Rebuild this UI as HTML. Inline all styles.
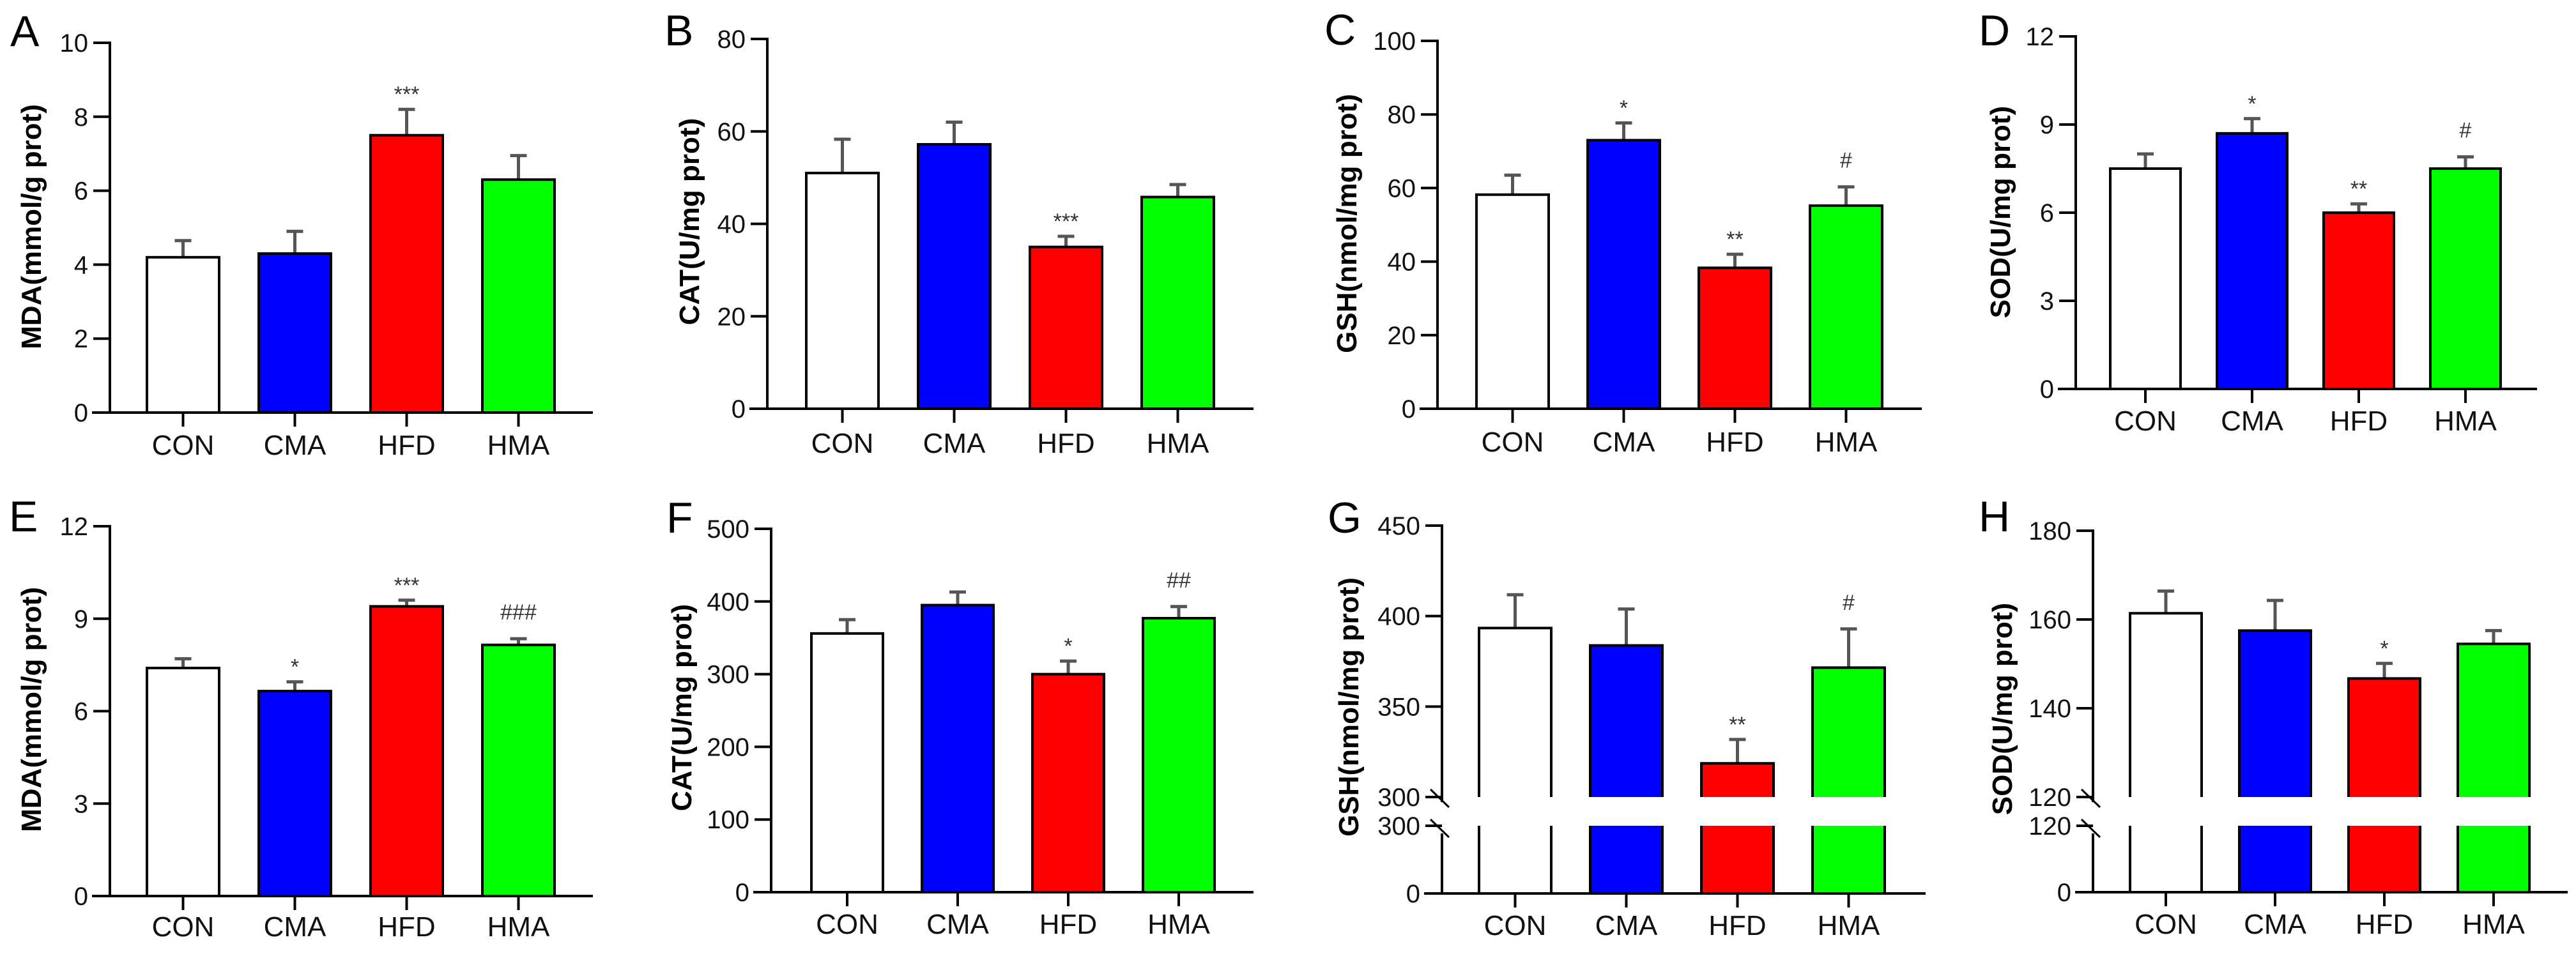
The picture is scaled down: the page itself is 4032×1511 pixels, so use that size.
<!DOCTYPE html>
<html><head><meta charset="utf-8">
<style>
html,body{margin:0;padding:0;background:#fff;}
svg{display:block;}
text{font-family:"Liberation Sans",Arial,sans-serif;}
</style></head>
<body>
<svg id="fig" width="4032" height="1511" viewBox="0 0 4032 1511" xmlns="http://www.w3.org/2000/svg"></svg>
<script>
const categories = ["CON","CMA","HFD","HMA"];
const barColors = ["#ffffff","#0000ff","#ff0000","#00ff00"];

const aValues = [4.2, 4.3, 7.5, 6.3];
const aErrTop = [4.65, 4.9, 8.2, 6.95];
const aMarks = ["", "", "***", ""];
const aTicks = [0, 2, 4, 6, 8, 10];

const bValues = [51, 57.2, 35, 45.8];
const bErrTop = [58.3, 62, 37.3, 48.5];
const bMarks = ["", "", "***", ""];
const bTicks = [0, 20, 40, 60, 80];

const cValues = [58.2, 73, 38.3, 55.2];
const cErrTop = [63.5, 77.7, 42, 60.3];
const cMarks = ["", "*", "**", "#"];
const cTicks = [0, 20, 40, 60, 80, 100];

const dValues = [7.5, 8.7, 6.0, 7.5];
const dErrTop = [8.0, 9.2, 6.3, 7.9];
const dMarks = ["", "*", "**", "#"];
const dTicks = [0, 3, 6, 9, 12];

const eValues = [7.4, 6.65, 9.4, 8.15];
const eErrTop = [7.7, 6.95, 9.6, 8.35];
const eMarks = ["", "*", "***", "###"];
const eTicks = [0, 3, 6, 9, 12];

const fValues = [356, 395, 300, 377];
const fErrTop = [375, 413, 318, 393];
const fMarks = ["", "", "*", "##"];
const fTicks = [0, 100, 200, 300, 400, 500];

const gValues = [393.4, 383.8, 318.6, 371.5];
const gErrTop = [411.8, 403.9, 331.8, 392.9];
const gMarks = ["", "", "**", "#"];
const gUpperTicks = [300, 350, 400, 450];
const gLowerTicks = [0, 300];

const hValues = [161.4, 157.5, 146.7, 154.5];
const hErrTop = [166.4, 164.3, 150.1, 157.5];
const hMarks = ["", "", "*", ""];
const hUpperTicks = [120, 140, 160, 180];
const hLowerTicks = [0, 120];

const NS = "http://www.w3.org/2000/svg";
const svg = document.getElementById("fig");
function mk(tag, attrs, parent){
  const el = document.createElementNS(NS, tag);
  for (const k in attrs) el.setAttribute(k, attrs[k]);
  (parent||svg).appendChild(el);
  return el;
}

function drawPanel(p){
  const g = mk("g", {});
  
  
  const broken = !!p.brk;
  // value to y
  function y(v){
    if (!broken) return p.yZero - (v - 0) / (p.max) * (p.yZero - p.yTop);
    if (v >= p.brk.lo) return p.brk.yUp - (v - p.brk.lo) / (p.max - p.brk.lo) * (p.brk.yUp - p.yTop);
    return p.yZero - v / p.brk.lo * (p.yZero - p.brk.yLow);
  }
  // panel letter
  const L = mk("text", {x:p.lx, y:p.ly, "font-size":68, fill:"#000"}, g);
  L.textContent = p.letter;
  
  
  // y title
  const T = mk("text", {x:0, y:0, "font-size":44, "font-weight":"bold", "text-anchor":"middle", transform:"translate("+p.tx+","+p.ty+") rotate(-90)", fill:"#000"}, g);
  T.textContent = p.title;
  
  
  // bars
  categories.forEach((c, i) => {
    const left = p.firstLeft + i * p.step;
    const cx = left + p.bw / 2;
    const top = y(p.values[i]);
    const et = y(p.errTop[i]);
    const eb = mk("line", {x1:cx, x2:cx, y1:et, y2:top, stroke:"#555", "stroke-width":5}, g);
    
    
    const cap = mk("line", {x1:cx-13, x2:cx+13, y1:et, y2:et, stroke:"#555", "stroke-width":5}, g);
    
    
    if (!broken){
      const r = mk("rect", {x:left, y:top, width:p.bw, height:p.yZero - top, fill:barColors[i], stroke:"#000", "stroke-width":4}, g);
      
      
    } else {
      const yb1 = p.brk.yUp, yb2 = p.brk.yLow;
      const r1 = mk("rect", {x:left, y:top, width:p.bw, height:yb1 - top, fill:barColors[i]}, g);
      
      
      const o1 = mk("path", {d:"M"+left+","+yb1+"V"+top+"H"+(left+p.bw)+"V"+yb1, fill:"none", stroke:"#000", "stroke-width":4}, g);
      
      
      const r2 = mk("rect", {x:left, y:yb2, width:p.bw, height:p.yZero - yb2, fill:barColors[i]}, g);
      
      
      const o2 = mk("path", {d:"M"+left+","+yb2+"V"+p.yZero+"H"+(left+p.bw)+"V"+yb2, fill:"none", stroke:"#000", "stroke-width":4}, g);
      
      
    }
    if (p.marks[i]){
      const isHash = p.marks[i].indexOf("#") >= 0;
      const m = mk("text", {x:cx, y:et - (isHash ? 30 : 12), "font-size":34, "text-anchor":"middle", fill:"#333"}, g);
      m.textContent = p.marks[i];
      
      
    }
    // x tick and label
    const xt = mk("line", {x1:cx, x2:cx, y1:p.yZero, y2:p.yZero + 22, stroke:"#000", "stroke-width":4}, g);
    
    
    const xl = mk("text", {x:cx, y:p.xlY, "font-size":44, "text-anchor":"middle", fill:"#111"}, g);
    xl.textContent = c;
    
    
  });
  // axes
  const xa = mk("line", {x1:p.axisX - 28, x2:p.axisEnd, y1:p.yZero, y2:p.yZero, stroke:"#000", "stroke-width":4}, g);
  
  
  if (!broken){
    const ya = mk("line", {x1:p.axisX, x2:p.axisX, y1:p.yTop - 2, y2:p.yZero + 2, stroke:"#000", "stroke-width":4}, g);
    
    
  } else {
    const ya1 = mk("line", {x1:p.axisX, x2:p.axisX, y1:p.yTop - 2, y2:p.brk.yUp + 8, stroke:"#000", "stroke-width":4}, g);
    
    
    const ya2 = mk("line", {x1:p.axisX, x2:p.axisX, y1:p.brk.yLow + 12, y2:p.yZero + 2, stroke:"#000", "stroke-width":4}, g);
    
    
    [p.brk.yUp - 12, p.brk.yLow - 10].forEach(yy => {
      const s = mk("line", {x1:p.axisX - 18, y1:yy, x2:p.axisX + 11, y2:yy + 28, stroke:"#000", "stroke-width":3}, g);
      
      
    });
  }
  function tick(v, yy){
    const t = mk("line", {x1:p.axisX - 26, x2:p.axisX, y1:yy, y2:yy, stroke:"#000", "stroke-width":4}, g);
    
    
    const tl = mk("text", {x:p.axisX - 34, y:yy + 14, "font-size":40, "text-anchor":"end", fill:"#111"}, g);
    tl.textContent = v;
    
    
  }
  if (!broken){
    p.ticks.forEach(v => tick(v, y(v)));
  } else {
    p.upperTicks.forEach(v => tick(v, y(v)));
    p.lowerTicks.forEach(v => tick(v, v === 0 ? p.yZero : p.brk.yLow));
  }
}

drawPanel({letter:"A", lx:16, ly:72, tx:64, ty:355, title:"MDA(mmol/g prot)", axisX:172, axisEnd:928, yTop:67, yZero:646, max:10, firstLeft:230, step:175, bw:113, xlY:712, values:aValues, errTop:aErrTop, marks:aMarks, ticks:aTicks});
drawPanel({letter:"B", lx:1040, ly:71, tx:1094, ty:347, title:"CAT(U/mg prot)", axisX:1201, axisEnd:1962, yTop:61, yZero:640, max:80, firstLeft:1262, step:175, bw:113, xlY:709, values:bValues, errTop:bErrTop, marks:bMarks, ticks:bTicks});
drawPanel({letter:"C", lx:2073, ly:70, tx:2123, ty:350, title:"GSH(nmol/mg prot)", axisX:2250, axisEnd:3008, yTop:64, yZero:640, max:100, firstLeft:2311, step:174, bw:113, xlY:707, values:cValues, errTop:cErrTop, marks:cMarks, ticks:cTicks});
drawPanel({letter:"D", lx:3097, ly:71, tx:3146, ty:332, title:"SOD(U/mg prot)", axisX:3249, axisEnd:3971, yTop:57, yZero:609, max:12, firstLeft:3303, step:167, bw:110, xlY:674, values:dValues, errTop:dErrTop, marks:dMarks, ticks:dTicks});
drawPanel({letter:"E", lx:14, ly:832, tx:64, ty:1111, title:"MDA(mmol/g prot)", axisX:172, axisEnd:928, yTop:824, yZero:1403, max:12, firstLeft:230, step:175, bw:113, xlY:1466, values:eValues, errTop:eErrTop, marks:eMarks, ticks:eTicks});
drawPanel({letter:"F", lx:1043, ly:834, tx:1082, ty:1108, title:"CAT(U/mg prot)", axisX:1207, axisEnd:1962, yTop:828, yZero:1397, max:500, firstLeft:1270, step:173, bw:112, xlY:1462, values:fValues, errTop:fErrTop, marks:fMarks, ticks:fTicks});
drawPanel({letter:"G", lx:2078, ly:834, tx:2126, ty:1107, title:"GSH(nmol/mg prot)", axisX:2257, axisEnd:3014, yTop:823, yZero:1399, max:450, brk:{lo:300, yUp:1248, yLow:1293}, firstLeft:2315, step:174, bw:113, xlY:1464, values:gValues, errTop:gErrTop, marks:gMarks, upperTicks:gUpperTicks, lowerTicks:gLowerTicks});
drawPanel({letter:"H", lx:3097, ly:832, tx:3149, ty:1110, title:"SOD(U/mg prot)", axisX:3276, axisEnd:4019, yTop:831, yZero:1397, max:180, brk:{lo:120, yUp:1248, yLow:1293}, firstLeft:3334, step:171, bw:112, xlY:1462, values:hValues, errTop:hErrTop, marks:hMarks, upperTicks:hUpperTicks, lowerTicks:hLowerTicks});
</script>
</body></html>
